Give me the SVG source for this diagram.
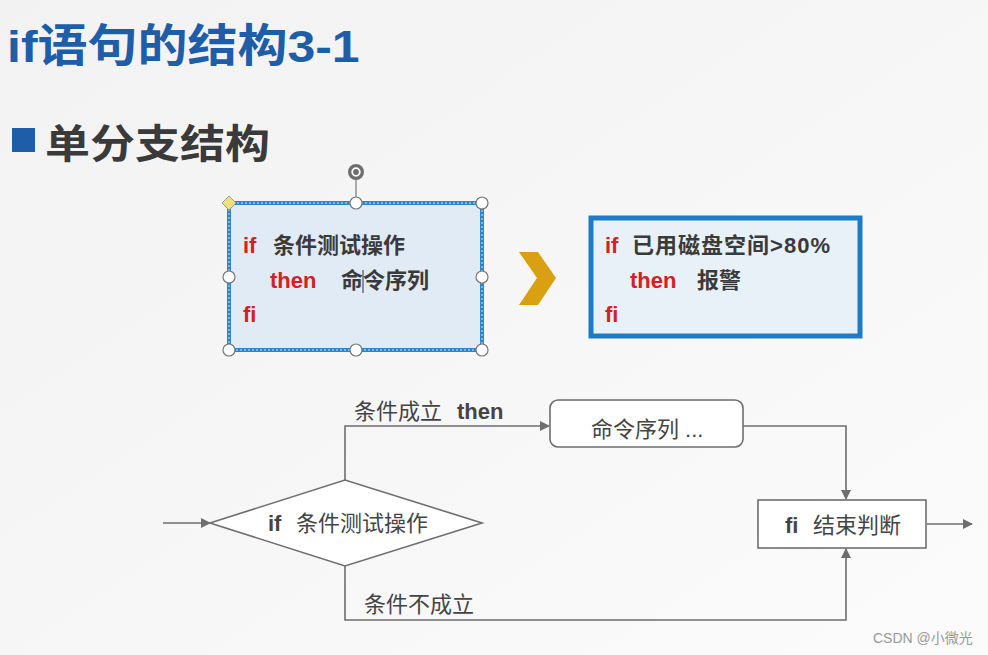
<svg xmlns="http://www.w3.org/2000/svg" width="988" height="655" viewBox="0 0 988 655">
<defs>
<style>
.t{font-family:"Liberation Sans","Noto Sans CJK SC",sans-serif;font-weight:bold}
.red{fill:#d42020}
.dk{fill:#3a3a3a}
.fl{fill:#444;font-family:"Liberation Sans","Noto Sans CJK SC",sans-serif;font-size:22px}
.ln{fill:none;stroke:#6e6e6e;stroke-width:1.6}
.h{fill:#fff;stroke:#777;stroke-width:1.2}
</style>
<marker id="ah" viewBox="0 0 10 10" refX="9" refY="5" markerWidth="10" markerHeight="10" markerUnits="userSpaceOnUse" orient="auto">
<path d="M0,0 L10,5 L0,10 z" fill="#6e6e6e"/>
</marker>
<linearGradient id="bg" x1="0" y1="0" x2="1" y2="1">
<stop offset="0" stop-color="#f2f2f2"/>
<stop offset="1" stop-color="#fbfbfb"/>
</linearGradient>
</defs>
<rect width="988" height="655" fill="url(#bg)"/>

<g id="title">
<text transform="matrix(1 0 0 0.9 0 62)" x="7" y="0" class="t" font-size="50" fill="#1e5ea8">if语句的结构3-1</text>
</g>
<g id="subtitle">
<rect x="12" y="128" width="23" height="24" fill="#1e5ea8"/>
<text transform="matrix(1 0 0 0.88 0 158)" x="45" y="0" class="t dk" font-size="45">单分支结构</text>
</g>

<g id="box1">
<rect x="229" y="203" width="253" height="147" fill="#e0ebf6" stroke="#2a86cc" stroke-width="4"/>
<rect x="229" y="203" width="253" height="147" fill="none" stroke="#cfe4f5" stroke-width="1" stroke-dasharray="2,2"/>
<line x1="356" y1="179" x2="356" y2="203" stroke="#777" stroke-width="1.2"/>
<circle cx="356" cy="172" r="8" fill="#6e6e6e"/>
<circle cx="356" cy="172" r="3.8" fill="none" stroke="#fff" stroke-width="1.8"/>
<circle class="h" cx="356" cy="203" r="6"/>
<circle class="h" cx="482" cy="203" r="6"/>
<circle class="h" cx="229" cy="277" r="6"/>
<circle class="h" cx="482" cy="277" r="6"/>
<circle class="h" cx="229" cy="350" r="6"/>
<circle class="h" cx="356" cy="350" r="6"/>
<circle class="h" cx="482" cy="350" r="6"/>
<path d="M229,196 L236,203 L229,210 L222,203 z" fill="#f0e07a" stroke="#999" stroke-width="1"/>
<text x="243" y="253" class="t red" font-size="22">if</text>
<text x="273" y="253" class="t dk" font-size="22">条件测试操作</text>
<text x="270" y="288" class="t red" font-size="22">then</text>
<text x="341" y="288" class="t dk" font-size="22">命令序列</text>
<line x1="363" y1="270" x2="363" y2="293" stroke="#333" stroke-width="1"/>
<text x="243" y="322" class="t red" font-size="22">fi</text>
</g>

<g id="chevron">
<path d="M519,252 L538,252 L556,278 L538,305 L519,305 L537,278 z" fill="#d9a011"/>
</g>

<g id="box2">
<rect x="591" y="218" width="269" height="118" fill="#e8f0f8" stroke="#1e7cc6" stroke-width="5"/>
<text x="605" y="253" class="t red" font-size="22">if</text>
<text x="632" y="253" class="t dk" font-size="22" textLength="198" lengthAdjust="spacing">已用磁盘空间&gt;80%</text>
<text x="630" y="288" class="t red" font-size="22">then</text>
<text x="697" y="288" class="t dk" font-size="22">报警</text>
<text x="605" y="322" class="t red" font-size="22">fi</text>
</g>

<g id="connectors">
<line class="ln" x1="163" y1="523" x2="210" y2="523" marker-end="url(#ah)"/>
<polyline class="ln" points="345,480 345,426 549,426" marker-end="url(#ah)"/>
<polyline class="ln" points="743,426 846,426 846,499" marker-end="url(#ah)"/>
<polyline class="ln" points="345,566 345,620 846,620 846,549" marker-end="url(#ah)"/>
<line class="ln" x1="927" y1="524" x2="972" y2="524" marker-end="url(#ah)"/>
<text x="354" y="419" class="fl">条件成立<tspan x="457" font-weight="bold">then</tspan></text>
<text x="364" y="612" class="fl">条件不成立</text>
</g>

<g id="decision">
<polygon points="210,523 345,480 482,523 345,566" fill="#fff" stroke="#6e6e6e" stroke-width="1.6"/>
<text x="268" y="531" class="fl"><tspan font-weight="bold">if</tspan><tspan x="296">条件测试操作</tspan></text>
</g>

<g id="commands">
<rect x="550" y="400" width="193" height="47" rx="8" fill="#fff" stroke="#6e6e6e" stroke-width="1.6"/>
<text x="591" y="437" class="fl">命令序列 ...</text>
</g>

<g id="fi">
<rect x="758" y="500" width="168" height="48" fill="#fff" stroke="#6e6e6e" stroke-width="1.6"/>
<text x="785" y="533" class="fl"><tspan font-weight="bold">fi</tspan><tspan x="813">结束判断</tspan></text>
</g>

<g id="watermark">
<text x="873" y="643" font-family="Liberation Sans,'Noto Sans CJK SC',sans-serif" font-size="14" fill="#999">CSDN @小微光</text>
</g>
</svg>
